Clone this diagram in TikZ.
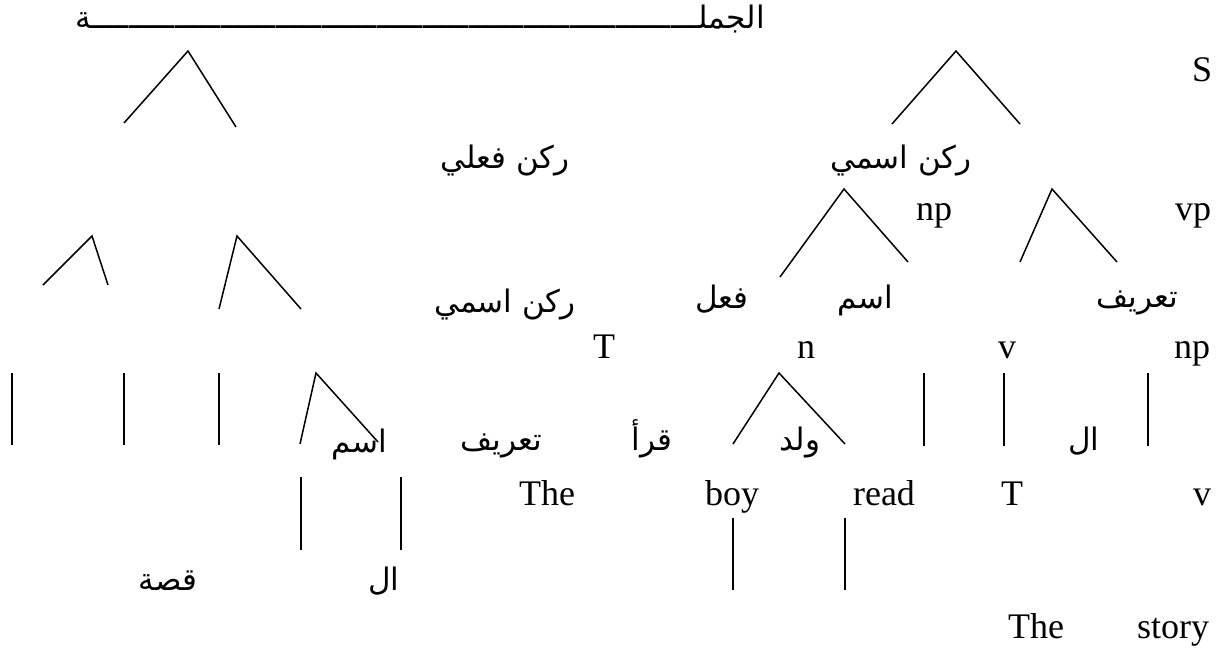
\documentclass[tikz,border=0pt]{standalone}
\usepackage{fontspec}
\setmainfont{Liberation Serif}
\newfontfamily\arabicfont[Script=Arabic]{DejaVu Sans}
\TeXXeTstate=1
\newcommand\AR[1]{\beginR #1\endR}
\tikzset{
  lat/.style={anchor=base, inner sep=0pt, font=\fontsize{36}{40}\selectfont},
  ar/.style={anchor=base, inner sep=0pt, font=\arabicfont\fontsize{31}{36}\selectfont},
  branch/.style={line width=1.5pt},
}
\begin{document}
\begin{tikzpicture}[x=1pt,y=-1pt]
\useasboundingbox (0,0) rectangle (1224,658);
% ---- texts ----
\node[ar, anchor=base east] (title) at (765,29)
  {\hbox to 689pt{\beginR الجملـ\xleaders\hbox{ـ}\hfill ـة\endR}};
\node[lat] (S) at (1202,82) {S};
\node[ar] (rf) at (505,168) {\AR{ركن فعلي}};
\node[ar] (ri1) at (901,168) {\AR{ركن اسمي}};
\node[lat] (np1) at (934,220) {np};
\node[lat] (vp) at (1193,220) {vp};
\node[ar] (ri2) at (505,312) {\AR{ركن اسمي}};
\node[ar] (fl) at (722,308) {\AR{فعل}};
\node[ar] (ism1) at (865,308) {\AR{اسم}};
\node[ar] (tar1) at (1137,307) {\AR{تعريف}};
\node[lat] (T1) at (604,358) {T};
\node[lat] (n1) at (806,358) {n};
\node[lat] (v1) at (1007,358) {v};
\node[lat] (np2) at (1192,358) {np};
\node[ar] (ism2) at (359,452) {\AR{اسم}};
\node[ar] (tar2) at (501,450) {\AR{تعريف}};
\node[ar] (qara) at (652,450) {\AR{قرأ}};
\node[ar] (walad) at (800,450) {\AR{ولد}};
\node[ar] (al1) at (1084,450) {\AR{ال}};
\node[lat] (the1) at (547,505) {The};
\node[lat] (boy) at (732,505) {boy};
\node[lat] (read) at (884,505) {read};
\node[lat] (T2) at (1012,505) {T};
\node[lat] (v2) at (1202,505) {v};
\node[ar] (qissa) at (168,590) {\AR{قصة}};
\node[ar] (al2) at (384,590) {\AR{ال}};
\node[lat] (the2) at (1036,638) {The};
\node[lat] (story) at (1173,638) {story};
% ---- branch points ----
\coordinate (a1) at (188,51);  \coordinate (a1l) at (124,123); \coordinate (a1r) at (236,127);
\coordinate (a2) at (956,51);  \coordinate (a2l) at (892,124); \coordinate (a2r) at (1020,124);
\coordinate (a3) at (844,189); \coordinate (a3l) at (780,277); \coordinate (a3r) at (908,262);
\coordinate (a4) at (1052,189); \coordinate (a4l) at (1020,262); \coordinate (a4r) at (1117,262);
\coordinate (a5) at (92,236);  \coordinate (a5l) at (43,285);  \coordinate (a5r) at (108,285);
\coordinate (a6) at (237,236); \coordinate (a6l) at (219,309); \coordinate (a6r) at (301,309);
\coordinate (a7) at (316,373); \coordinate (a7l) at (300,444); \coordinate (a7r) at (378,442);
\coordinate (a8) at (779,373); \coordinate (a8l) at (733,444); \coordinate (a8r) at (845,444);
\foreach \i in {1,...,8} {\draw[branch] (a\i l) -- (a\i) -- (a\i r);}
% ---- vertical bars ----
\foreach \x/\t/\b [count=\k] in {12/373/445,124/373/445,219/373/445,924/373/446,1004/373/446,1148/373/446,301/477/550,401/477/550,733/518/590,845/518/590}
  {\coordinate (bt\k) at (\x,\t); \coordinate (bb\k) at (\x,\b); \draw[branch] (bt\k) -- (bb\k);}
\end{tikzpicture}
\end{document}
